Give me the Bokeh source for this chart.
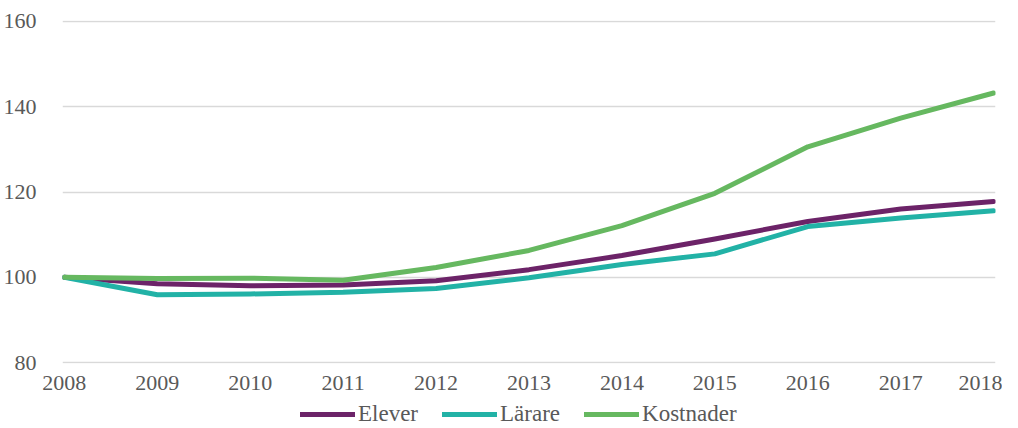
from bokeh.plotting import figure
from bokeh.layouts import column
from bokeh.models import Legend, LegendItem, FixedTicker, ColumnDataSource, Range1d
from bokeh.embed import file_html
from bokeh.resources import INLINE

years = [2008, 2009, 2010, 2011, 2012, 2013, 2014, 2015, 2016, 2017, 2018]
elever = [100, 98.5, 98.0, 98.2, 99.2, 101.8, 105.1, 109.0, 113.1, 116.0, 117.8]
larare = [100, 95.9, 96.1, 96.5, 97.4, 99.9, 103.0, 105.5, 111.9, 113.9, 115.6]
kostnader = [100, 99.7, 99.8, 99.3, 102.3, 106.3, 112.1, 119.7, 130.6, 137.3, 143.2]
y_ticks = [80, 100, 120, 140, 160]

series = [("Elever", elever, "#6C2368"), ("Lärare", larare, "#22B2A6"), ("Kostnader", kostnader, "#66B860")]

FONT = "Liberation Serif"
TXT = "#595959"

p = figure(width=1002, height=397, output_backend="svg", toolbar_location=None,
           x_range=(2007.98, 2018.02), y_range=(79.8, 160.2),
           min_border_left=55, min_border_top=20, min_border_right=7, min_border_bottom=34)
p.outline_line_color = None
p.background_fill_color = "white"
p.border_fill_color = "white"

p.xgrid.grid_line_color = None
p.ygrid.grid_line_color = "#D9D9D9"
p.ygrid.grid_line_width = 1.5
p.ygrid.ticker = FixedTicker(ticks=y_ticks)

p.yaxis.ticker = FixedTicker(ticks=y_ticks)
p.xaxis.ticker = FixedTicker(ticks=years)
for ax in (p.xaxis, p.yaxis):
    ax.axis_line_color = None
    ax.major_tick_line_color = None
    ax.minor_tick_line_color = None
    ax.major_label_text_font = FONT
    ax.major_label_text_font_size = "22px"
    ax.major_label_text_color = TXT
p.yaxis.major_label_standoff = 20
p.xaxis.major_label_standoff = 6

for name, vals, col in series:
    src = ColumnDataSource(dict(x=years, y=vals))
    p.line("x", "y", source=src, line_color=col, line_width=5, line_join="round", line_cap="round")

# legend strip below the chart (its own renderers lie outside its view)
lg = figure(width=1002, height=31, output_backend="svg", toolbar_location=None,
            x_range=Range1d(0, 1), y_range=Range1d(0, 1),
            min_border=0, x_axis_type=None, y_axis_type=None)
lg.outline_line_color = None
lg.grid.grid_line_color = None
items = []
for name, vals, col in series:
    src = ColumnDataSource(dict(x=years, y=vals))
    r = lg.line("x", "y", source=src, line_color=col, line_width=5, line_cap="round")
    items.append(LegendItem(label=name, renderers=[r]))
legend = Legend(items=items, orientation="horizontal", location=(238, 1),
                label_text_font=FONT, label_text_font_size="23px", label_text_color=TXT,
                glyph_width=55, glyph_height=14, label_height=22, spacing=24, label_standoff=3,
                border_line_color=None, background_fill_alpha=0, padding=2, margin=0)
lg.add_layout(legend, "center")

layout = column(p, lg, spacing=0)
open("out.html", "w").write(file_html(layout, INLINE))
